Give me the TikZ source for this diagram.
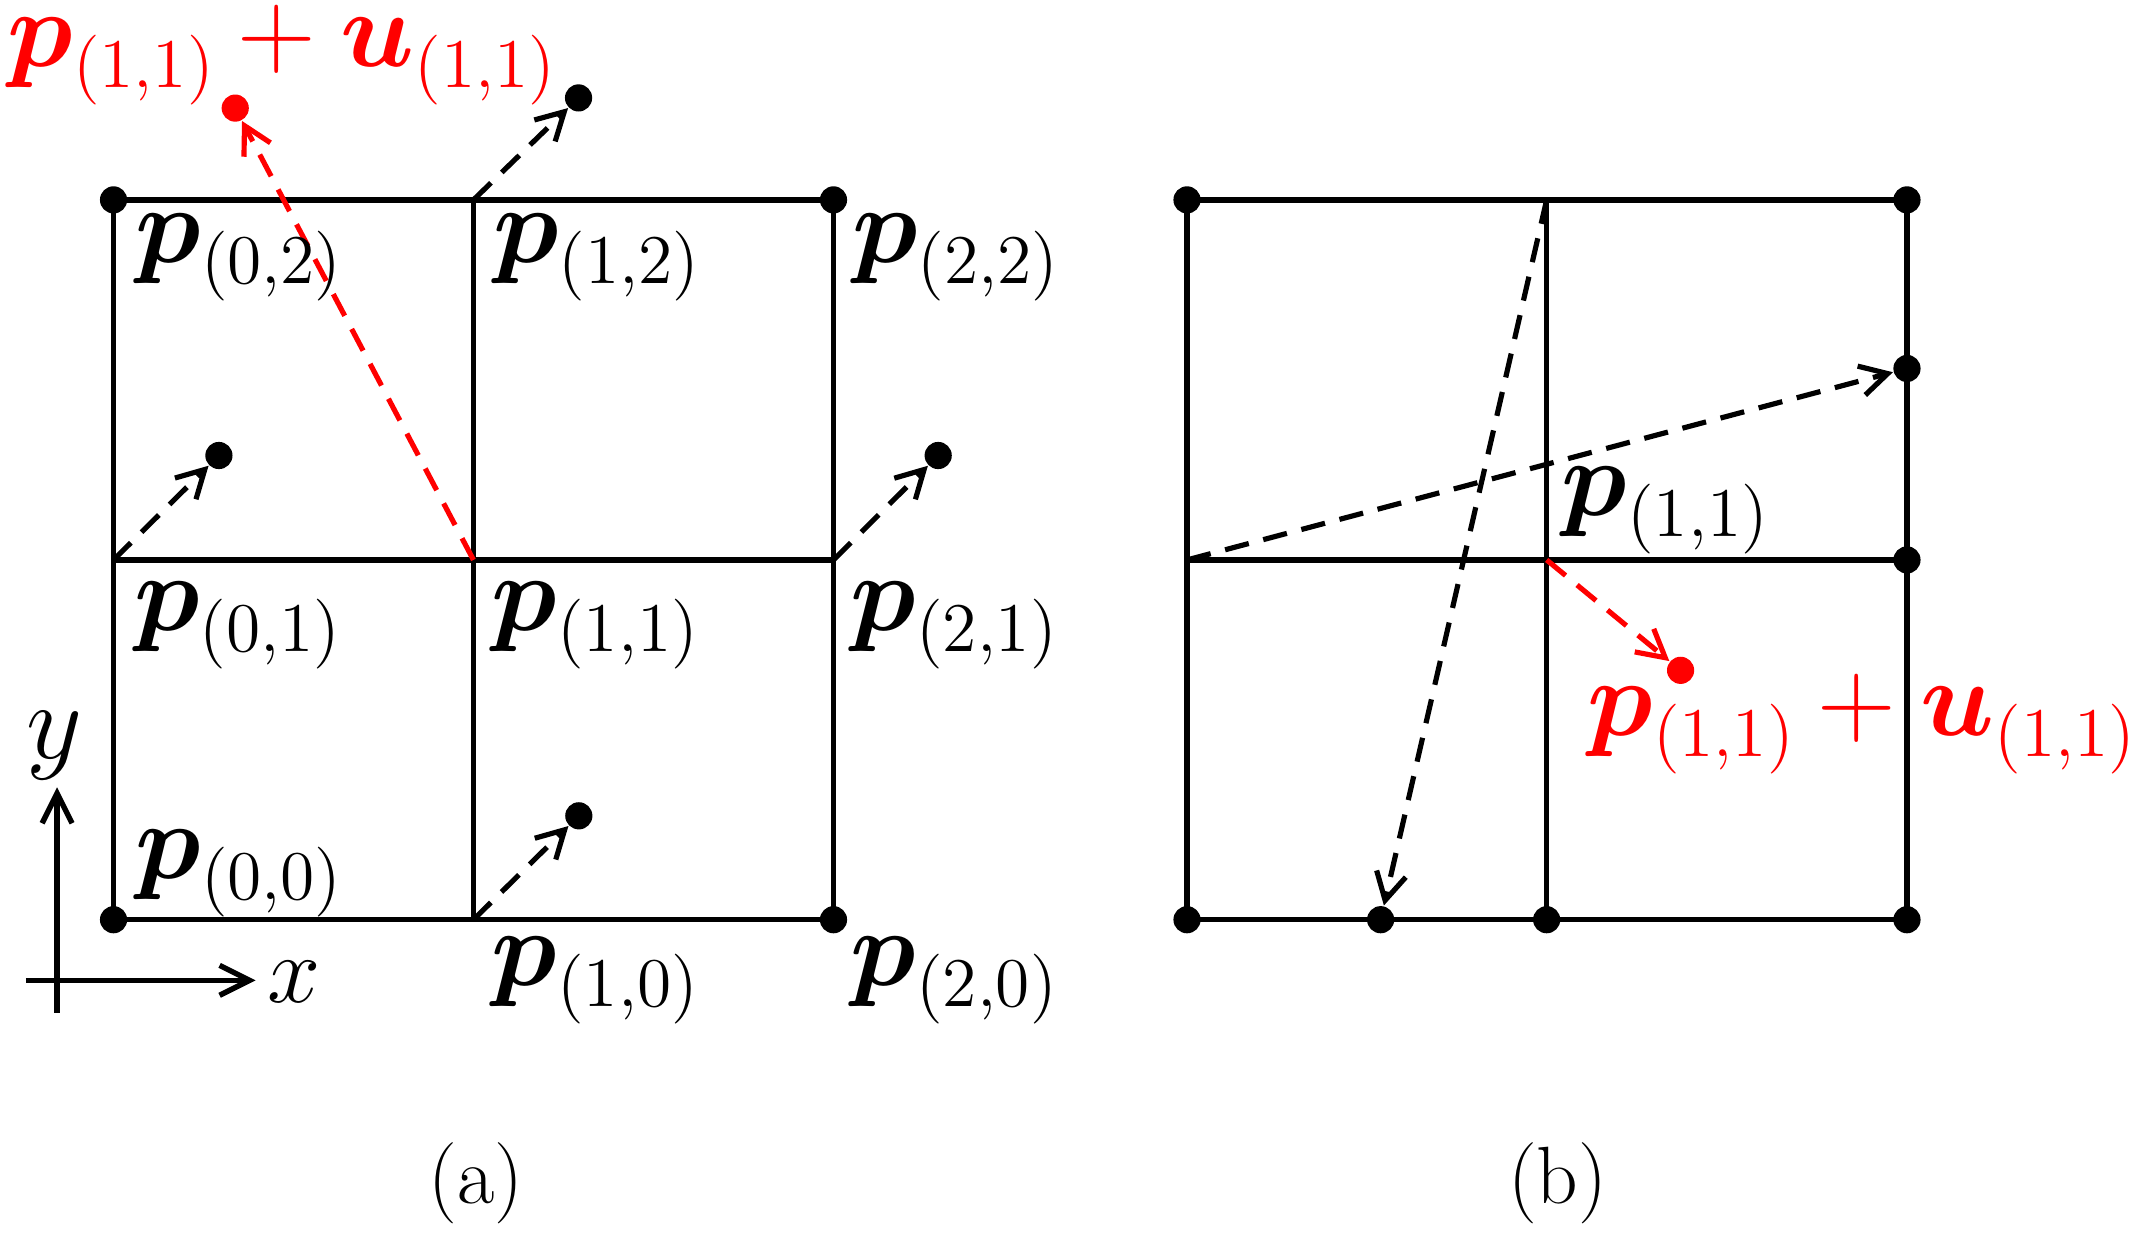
\documentclass[tikz,border=0pt]{standalone}
\usepackage{fix-cm}
\usepackage{amsmath,bm}
\usetikzlibrary{arrows.meta}
\newcommand{\mysub}[1]{\raisebox{-4.4pt}{\fontsize{14.6}{15}\selectfont(#1)}}
\newcommand{\pvec}[1]{$\bm{p}$\mysub{#1}}
\newcommand{\puvec}{$\bm{p}$\mysub{1,1}${}+{}\bm{u}$\mysub{1,1}}
\begin{document}
\begin{tikzpicture}[x=0.1mm,y=-0.1mm,
  lab/.style={anchor=base west, inner sep=0pt, font=\fontsize{22.8}{24}\selectfont},
  rlab/.style={lab, text=red},
  captext/.style={anchor=base, inner sep=0pt, font=\fontsize{17}{18}\selectfont},
  gridline/.style={line width=0.4mm},
  dot/.style={circle, fill=black, inner sep=0pt, minimum size=2mm},
  rdot/.style={dot, fill=red},
  darr/.style={line width=0.38mm, dash pattern=on 1.8mm off 1.1mm, -{Straight Barb[length=2mm,width=2.2mm]}},
  rarr/.style={darr, draw=red},
  axis/.style={line width=0.4mm, -{Straight Barb[length=2.2mm,width=2.2mm]}}
  ]
\useasboundingbox (0,0) rectangle (1568,911);
% ---------- panel (a) ----------
\coordinate (A00) at (83.5,676.4);
\coordinate (A10) at (348.2,676.4);
\coordinate (A20) at (613,676.4);
\coordinate (A01) at (83.5,411.8);
\coordinate (A11) at (348.2,411.8);
\coordinate (A21) at (613,411.8);
\coordinate (A02) at (83.5,147);
\coordinate (A12) at (348.2,147);
\coordinate (A22) at (613,147);
\draw[gridline] (A00) rectangle (A22);
\draw[gridline] (A10) -- (A12);
\draw[gridline] (A01) -- (A21);
\node[dot] (dA00) at (A00) {};
\node[dot] (dA20) at (A20) {};
\node[dot] (dA02) at (A02) {};
\node[dot] (dA22) at (A22) {};
\node[dot] (mA12) at (425.5,72) {};
\node[dot] (mA01) at (161,335) {};
\node[dot] (mA21) at (690,335) {};
\node[dot] (mA10) at (425.7,600) {};
\node[rdot] (rA) at (173,79.5) {};
\draw[darr] (A12) -- (mA12);
\draw[darr] (A01) -- (mA01);
\draw[darr] (A21) -- (mA21);
\draw[darr] (A10) -- (mA10);
\draw[rarr] (A11) -- (rA);
\node[lab] (lA02) at (99,193) {\pvec{0,2}};
\node[lab] (lA12) at (362,193) {\pvec{1,2}};
\node[lab] (lA22) at (626,193) {\pvec{2,2}};
\node[lab] (lA01) at (98,464) {\pvec{0,1}};
\node[lab] (lA11) at (361,464) {\pvec{1,1}};
\node[lab] (lA21) at (625,464) {\pvec{2,1}};
\node[lab] (lA00) at (99,646) {\pvec{0,0}};
\node[lab] (lA10) at (361,725) {\pvec{1,0}};
\node[lab] (lA20) at (625,725) {\pvec{2,0}};
\node[rlab] (lrA) at (5,49) {\puvec};
% axes
\coordinate (yb) at (42,745);
\coordinate (yt) at (42,579);
\coordinate (xl) at (19,721);
\coordinate (xr) at (188,721);
\draw[axis] (yb) -- (yt);
\draw[axis] (xl) -- (xr);
\node[anchor=base, inner sep=0pt, font=\fontsize{22.8}{24}\selectfont] (ylab) at (40,558) {$y$};
\node[anchor=base, inner sep=0pt, font=\fontsize{20}{22}\selectfont] (xlab) at (216,737.6) {$x$};
\node[captext] (capa) at (350,885) {(a)};
% ---------- panel (b) ----------
\coordinate (B00) at (873,676.4);
\coordinate (B10) at (1137.5,676.4);
\coordinate (B20) at (1402.5,676.4);
\coordinate (B01) at (873,411.8);
\coordinate (B11) at (1137.5,411.8);
\coordinate (B21) at (1402.5,411.8);
\coordinate (B02) at (873,147);
\coordinate (B12) at (1137.5,147);
\coordinate (B22) at (1402.5,147);
\draw[gridline] (B00) rectangle (B22);
\draw[gridline] (B10) -- (B12);
\draw[gridline] (B01) -- (B21);
\node[dot] (dB00) at (B00) {};
\node[dot] (dB10) at (B10) {};
\node[dot] (dB20) at (B20) {};
\node[dot] (dB21) at (B21) {};
\node[dot] (dB02) at (B02) {};
\node[dot] (dB22) at (B22) {};
\node[dot] (mB1) at (1402.5,271) {};
\node[dot] (mB2) at (1015.4,676.4) {};
\node[rdot] (rB) at (1236,493) {};
\draw[darr] (B01) -- (mB1);
\draw[darr] (B12) -- (mB2);
\draw[rarr] (B11) -- (rB);
\node[lab] (lB11) at (1148,379) {\pvec{1,1}};
\node[rlab] (lrB) at (1167,541) {\puvec};
\node[captext] (capb) at (1145.5,885) {(b)};
\end{tikzpicture}
\end{document}
